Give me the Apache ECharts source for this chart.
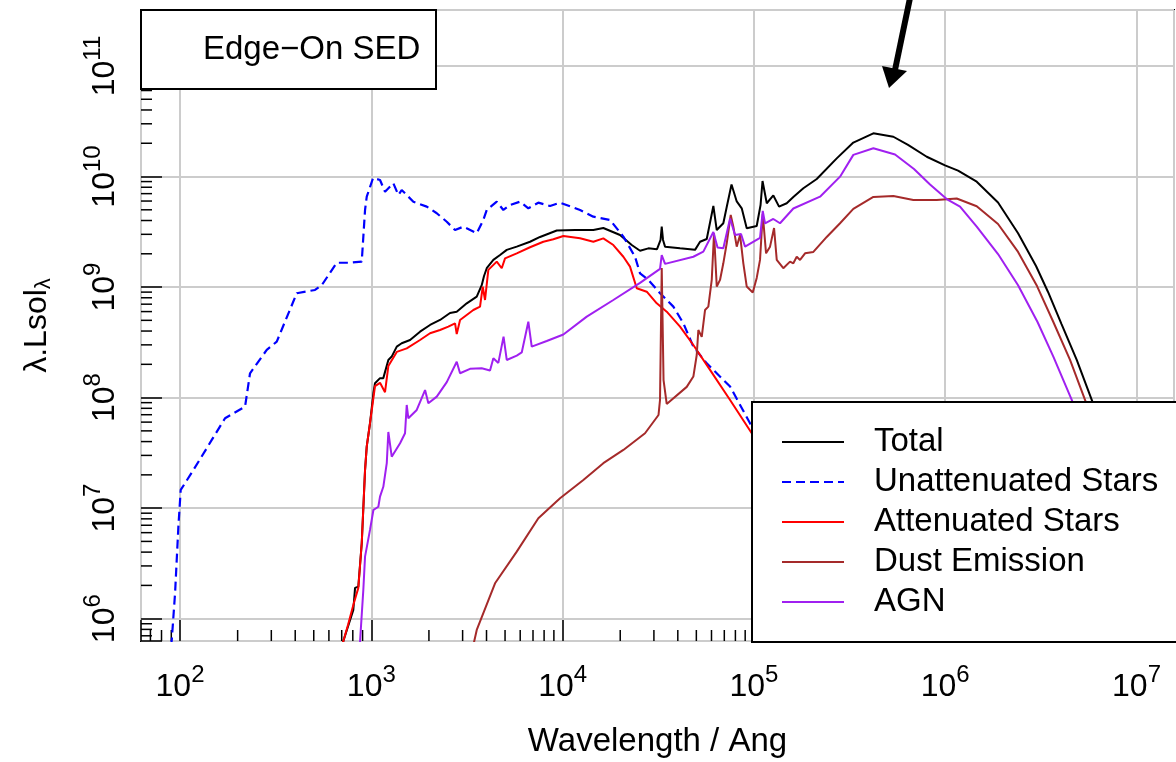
<!DOCTYPE html>
<html><head><meta charset="utf-8">
<script src="https://cdn.jsdelivr.net/npm/echarts@6/dist/echarts.min.js"></script>
<style>html,body{margin:0;padding:0;background:#fff}#chart{width:1176px;height:762px}</style>
</head><body><div id="chart"></div>
<script>
const FONT = '"Liberation Sans", Arial, Helvetica, sans-serif';

const seriesNames = ['Total', 'Unattenuated Stars', 'Attenuated Stars', 'Dust Emission', 'AGN'];
const seriesColors = ['#000000', '#0000ff', '#ff0000', '#a52a2a', '#a020f0'];

// [wavelength (Ang), lambda.Lsol_lambda]
const total = [[686,4.23e5],[714,6.28e5],[805,1.20e6],[822,1.90e6],[855,1.95e6],[891,4.84e6],[927,2.21e7],[946,3.60e7],[984,5.86e7],[1025,1.10e8],[1045,1.35e8],[1110,1.50e8],[1155,1.50e8],[1227,2.19e8],[1278,2.35e8],[1358,2.89e8],[1441,3.10e8],[1594,3.32e8],[1797,3.95e8],[2027,4.54e8],[2286,5.04e8],[2578,5.83e8],[2795,5.99e8],[3153,7.13e8],[3556,8.18e8],[3776,1.04e9],[3882,1.26e9],[4011,1.48e9],[4343,1.76e9],[4708,1.95e9],[5103,2.17e9],[5756,2.32e9],[6754,2.57e9],[7619,2.84e9],[9316,3.25e9],[11610,3.28e9],[14470,3.28e9],[16320,3.42e9],[19950,2.96e9],[22970,2.40e9],[25390,2.13e9],[28060,2.24e9],[31150,2.20e9],[32500,2.67e9],[32960,3.52e9],[33480,2.67e9],[34300,2.32e9],[41090,2.24e9],[49220,2.17e9],[52280,2.57e9],[56660,2.72e9],[61360,5.41e9],[63920,3.28e9],[69180,3.78e9],[72070,5.30e9],[76360,8.47e9],[81300,5.95e9],[86340,5.16e9],[91700,3.40e9],[103400,3.57e9],[108300,5.53e9],[110900,9.11e9],[116700,5.73e9],[126300,6.74e9],[135300,5.34e9],[148400,5.73e9],[160700,6.53e9],[181300,7.83e9],[213000,9.50e9],[270900,1.46e10],[330800,2.03e10],[421000,2.46e10],[535500,2.29e10],[639000,1.93e10],[800500,1.51e10],[997700,1.26e10],[1.167e6,1.13e10],[1.461e6,8.98e9],[1.888e6,5.82e9],[2.403e6,3.07e9],[2.983e6,1.55e9],[3.447e6,9.03e8],[4.055e6,4.63e8],[4.869e6,2.19e8],[5.833e6,9.52e7],[7.27e6,3.36e7]];

const unattenuated = [[87.6,4.2e5],[90.5,6.4e5],[94.2,1.71e6],[98.0,6.76e6],[100.8,1.46e7],[117.4,2.21e7],[146.5,4.14e7],[171.9,6.50e7],[218.7,8.28e7],[232.2,1.66e8],[283.9,2.70e8],[320.3,3.21e8],[407.4,8.79e8],[507.7,9.41e8],[550.5,1.04e9],[659.4,1.66e9],[773.8,1.66e9],[890.9,1.70e9],[926.9,4.98e9],[946.2,6.57e9],[1021,9.70e9],[1045,9.97e9],[1110,9.31e9],[1179,7.29e9],[1303,8.69e9],[1384,6.81e9],[1441,7.55e9],[1658,5.92e9],[1948,5.34e9],[2198,4.65e9],[2479,3.90e9],[2739,3.28e9],[3027,3.52e9],[3556,3.07e9],[3850,4.05e9],[4011,4.98e9],[4524,5.92e9],[4898,4.98e9],[5309,5.53e9],[5987,5.92e9],[6617,5.16e9],[7464,5.80e9],[8594,5.41e9],[9692,5.80e9],[12330,4.98e9],[14470,4.33e9],[17690,4.05e9],[20770,2.86e9],[23900,1.88e9],[25390,1.33e9],[28060,1.16e9],[32300,8.79e8],[37910,6.65e8],[42760,4.70e8],[48230,2.89e8],[56660,2.04e8],[75040,1.26e8],[95410,5.86e7],[174000,8.7e6]];

const attenuated = [[686,4.23e5],[714,6.28e5],[755,8.77e5],[805,1.33e6],[855,1.90e6],[891,4.84e6],[927,2.21e7],[946,3.60e7],[984,5.86e7],[1045,1.27e8],[1110,1.36e8],[1179,1.12e8],[1227,1.93e8],[1358,2.59e8],[1531,2.79e8],[1797,3.32e8],[2027,3.82e8],[2286,4.09e8],[2526,4.38e8],[2739,4.70e8],[2795,3.76e8],[2909,5.04e8],[3413,6.20e8],[3700,6.65e8],[3822,1.01e9],[3929,7.64e8],[4089,1.43e9],[4524,1.70e9],[4804,1.48e9],[4999,1.82e9],[5756,2.02e9],[6754,2.29e9],[7926,2.57e9],[8942,2.71e9],[10090,2.90e9],[12330,2.76e9],[14470,2.57e9],[16320,2.76e9],[18410,2.40e9],[20770,1.88e9],[22500,1.53e9],[24400,9.75e8],[27520,9.08e8],[31040,7.13e8],[35000,5.99e8],[41090,4.38e8],[48230,2.99e8],[58950,1.78e8],[75040,9.52e7],[97390,4.76e7],[173200,7.04e6]];

const dust = [[3280,4.23e5],[3556,7.90e5],[4432,2.09e6],[5756,4.04e6],[7464,8.10e6],[9692,1.23e7],[12830,1.80e7],[16320,2.55e7],[20770,3.36e7],[26960,4.76e7],[31710,6.96e7],[32290,9.52e7],[32960,1.49e9],[33690,1.44e8],[35000,8.76e7],[44540,1.25e8],[48230,1.55e8],[50230,2.43e8],[51220,4.09e8],[53350,3.54e8],[55510,6.20e8],[57760,6.65e8],[60180,1.16e9],[61860,3.07e9],[63920,1.01e9],[66480,1.16e9],[69180,1.64e9],[72070,2.49e9],[75620,4.49e9],[78040,3.52e9],[81300,2.32e9],[84610,2.96e9],[88030,1.64e9],[91700,1.01e9],[98560,8.93e8],[103400,1.21e9],[107600,1.76e9],[111200,4.58e9],[115700,2.02e9],[121400,2.32e9],[127400,3.42e9],[131600,1.76e9],[142400,1.48e9],[154400,1.70e9],[160700,1.64e9],[167400,1.88e9],[174200,1.76e9],[185000,2.02e9],[204500,2.08e9],[240200,2.84e9],[281900,3.78e9],[330800,5.09e9],[421000,6.53e9],[535500,6.67e9],[681200,6.13e9],[902700,6.13e9],[1.148e6,6.33e9],[1.461e6,5.38e9],[1.888e6,3.72e9],[2.403e6,2.08e9],[3.019e6,1.02e9],[3.674e6,4.83e8],[4.492e6,2.19e8],[5.38e6,9.52e7],[6.843e6,3.03e7]];

const agn = [[867.6,4.23e5],[873,6.28e5],[908,1.82e6],[927,3.64e6],[984,6.35e6],[1025,9.62e6],[1088,1.03e7],[1110,1.27e7],[1155,1.56e7],[1204,2.55e7],[1227,4.89e7],[1278,2.92e7],[1413,3.86e7],[1500,4.76e7],[1531,8.58e7],[1561,6.50e7],[1727,7.73e7],[1909,1.17e8],[1986,8.89e7],[2198,1.02e8],[2479,1.38e8],[2795,2.11e8],[2909,1.66e8],[3280,1.82e8],[3776,1.84e8],[4173,1.76e8],[4343,2.27e8],[4612,2.06e8],[4910,3.56e8],[5103,2.19e8],[5756,2.40e8],[6112,2.56e8],[6617,4.86e8],[6893,2.89e8],[8258,3.25e8],[10090,3.72e8],[13370,5.40e8],[18410,7.64e8],[25390,1.09e9],[32290,1.46e9],[32960,1.95e9],[34300,1.62e9],[48230,1.88e9],[54390,2.09e9],[61360,3.15e9],[64530,2.28e9],[69180,2.24e9],[75040,4.17e9],[79650,2.96e9],[85630,3.02e9],[89840,2.32e9],[107600,2.79e9],[111200,4.88e9],[114300,3.76e9],[126300,4.13e9],[136900,3.78e9],[160700,5.14e9],[221600,6.57e9],[281900,9.97e9],[330800,1.57e10],[421000,1.80e10],[546600,1.58e10],[686600,1.17e10],[832800,8.47e9],[1.018e6,6.26e9],[1.195e6,5.34e9],[1.461e6,3.52e9],[1.888e6,1.99e9],[2.403e6,1.04e9],[3.037e6,4.83e8],[3.674e6,2.35e8],[4.585e6,9.52e7],[5.714e6,3.36e7]];

const xRange = [62.5, 1.57e7];
const yRange = [6.28e5, 3.21e11];
const xMinorTicks = [70,80,90,200,300,400,500,600,700,800,900,2000,3000,4000,5000,6000,7000,8000,9000,2e4,3e4,4e4,5e4,6e4,7e4,8e4,9e4,2e5,3e5,4e5,5e5,6e5,7e5,8e5,9e5,2e6,3e6,4e6,5e6,6e6,7e6,8e6,9e6];
const yMinorTicks = [7e5,8e5,9e5,2e6,3e6,4e6,5e6,6e6,7e6,8e6,9e6,2e7,3e7,4e7,5e7,6e7,7e7,8e7,9e7,2e8,3e8,4e8,5e8,6e8,7e8,8e8,9e8,2e9,3e9,4e9,5e9,6e9,7e9,8e9,9e9,2e10,3e10,4e10,5e10,6e10,7e10,8e10,9e10,2e11,3e11];

const seriesData = [total, unattenuated, attenuated, dust, agn];

function powLabel(v) {
  const e = Math.log10(v);
  const r = Math.round(e);
  if (Math.abs(e - r) > 1e-6) return '';
  return '{b|10}{s|' + r + '}';
}
const labelRich = {
  b: {fontSize: 32, lineHeight: 40, verticalAlign: 'bottom', fontFamily: FONT, color: '#000'},
  s: {fontSize: 24, lineHeight: 22, verticalAlign: 'top', fontFamily: FONT, color: '#000'}
};

const chart = echarts.init(document.getElementById('chart'), null, {renderer: 'canvas'});

const lineSeries = seriesNames.map((name, i) => ({
  type: 'line', name: name, data: seriesData[i],
  symbol: 'none', showSymbol: false, smooth: false, clip: true, z: 2 + i * 0.01,
  animation: false,
  lineStyle: {color: seriesColors[i], width: i === 1 ? 2.2 : 2, type: i === 1 ? [9, 5] : 'solid'},
  itemStyle: {color: seriesColors[i]}
}));

const minorX = {
  type: 'custom', name: 'minorX', silent: true, z: 1, clip: false, animation: false,
  data: xMinorTicks.map(v => [v, yRange[0]]), encode: {x: 0, y: 1},
  renderItem: function (params, api) {
    const p = api.coord([api.value(0), api.value(1)]);
    const cs = params.coordSys;
    const yb = cs.y + cs.height;
    return {type: 'line', shape: {x1: p[0], y1: yb, x2: p[0], y2: yb - 11}, style: {stroke: '#000', lineWidth: 1.5}};
  }
};
const minorY = {
  type: 'custom', name: 'minorY', silent: true, z: 1, clip: false, animation: false,
  data: yMinorTicks.map(v => [xRange[0], v]), encode: {x: 0, y: 1},
  renderItem: function (params, api) {
    const p = api.coord([api.value(0), api.value(1)]);
    const cs = params.coordSys;
    return {type: 'line', shape: {x1: cs.x, y1: p[1], x2: cs.x + 11, y2: p[1]}, style: {stroke: '#000', lineWidth: 1.5}};
  }
};

chart.setOption({
  animation: false,
  backgroundColor: '#ffffff',
  textStyle: {fontFamily: FONT},
  grid: {left: 141, right: 2, top: 10, bottom: 121, containLabel: false, outerBoundsMode: 'none',
         show: true, borderColor: '#000', borderWidth: 2, backgroundColor: 'transparent'},
  title: {
    text: 'Edge\u2212On SED', left: 141, top: 10,
    padding: [23, 16, 23, 62],
    borderColor: '#000', borderWidth: 2, backgroundColor: '#fff',
    textStyle: {fontSize: 33, fontWeight: 'normal', color: '#000', fontFamily: FONT}
  },
  legend: {
    orient: 'vertical', left: 752, top: 402,
    data: seriesNames,
    itemWidth: 62, itemHeight: 40, itemGap: 0,
    padding: [20, 30, 20, 29],
    backgroundColor: '#fff', borderColor: '#000', borderWidth: 2, borderRadius: 0,
    selectedMode: false, z: 10,
    itemStyle: {opacity: 0},
    lineStyle: {width: 2},
    textStyle: {fontSize: 33, color: '#000', fontFamily: FONT, lineHeight: 40, padding: [0, 0, 0, 25]}
  },
  xAxis: {
    type: 'log', logBase: 10, min: xRange[0], max: xRange[1],
    name: 'Wavelength / Ang', nameLocation: 'middle', nameGap: 84,
    nameTextStyle: {fontSize: 33, color: '#000', fontFamily: FONT},
    axisLine: {show: false},
    axisTick: {show: true, inside: true, length: 21, lineStyle: {color: '#000', width: 1.5}},
    minorTick: {show: false},
    splitLine: {show: true, lineStyle: {color: '#cccccc', width: 2}},
    axisLabel: {show: true, margin: 22, formatter: powLabel, rich: labelRich, color: '#000'}
  },
  yAxis: {
    type: 'log', logBase: 10, min: yRange[0], max: yRange[1],
    name: '\u03bb.Lsol{sub|\u03bb}', nameLocation: 'middle', nameGap: 86,
    nameTextStyle: {fontSize: 32, color: '#000', fontFamily: FONT, lineHeight: 36,
      rich: {sub: {fontSize: 22, lineHeight: 22, verticalAlign: 'bottom', fontFamily: FONT, color: '#000'}}},
    axisLine: {show: false},
    axisTick: {show: true, inside: true, length: 21, lineStyle: {color: '#000', width: 1.5}},
    minorTick: {show: false},
    splitLine: {show: true, lineStyle: {color: '#cccccc', width: 2}},
    axisLabel: {show: true, rotate: 90, margin: 20, formatter: powLabel, rich: labelRich, color: '#000'}
  },
  graphic: [
    {type: 'line', shape: {x1: 910, y1: -2, x2: 895, y2: 70}, style: {stroke: '#000', lineWidth: 6}, z: 100},
    {type: 'polygon', shape: {points: [[882, 66], [907, 71], [889, 88]]}, style: {fill: '#000'}, z: 100}
  ],
  series: lineSeries.concat([minorX, minorY])
});
</script>
</body></html>
